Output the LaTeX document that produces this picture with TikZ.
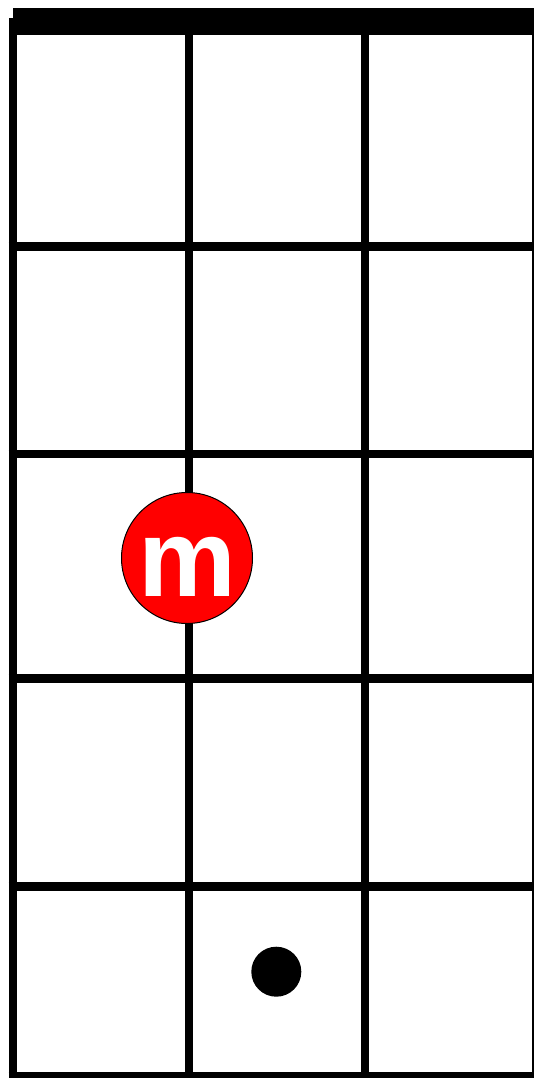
\documentclass[tikz,border=0pt]{standalone}
\usepackage{fontspec}
\setmainfont{Liberation Sans}
\usetikzlibrary{positioning}

\begin{document}
\begin{tikzpicture}[
    x=1pt, y=-1pt,
    strg/.style={line width=8pt},
    fret/.style={line width=8.5pt},
    finger/.style={
        circle, draw=black, line width=1pt,
        fill=red, text=white,
        minimum size=131pt, inner sep=0pt,
        text height=77pt, text depth=0pt,
        font=\fontsize{110}{110}\selectfont\bfseries
    },
    dotmark/.style={circle, fill=black, minimum size=50pt, inner sep=0pt},
]
\useasboundingbox (0,0) rectangle (534,1078);
\clip (0,0) rectangle (534,1078);

% nut
\fill (13,8.3) rectangle (540,35);

% strings
\draw[strg] (12.7,18) -- (12.7,1080);
\foreach \x in {189,365,536}
    \draw[strg] (\x,30) -- (\x,1080);

% frets
\foreach \y in {246.5,454,678.5,886.5,1076}
    \draw[fret] (8.7,\y) -- (540,\y);

% finger and dot
\node[finger] (fing) at (187,558) {m};
\node[dotmark] (dot) at (276.3,971.7) {};

\end{tikzpicture}
\end{document}
